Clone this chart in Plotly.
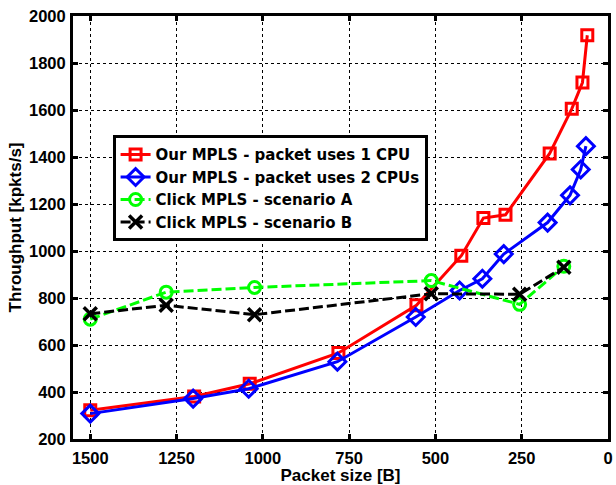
import plotly.graph_objects as go

# Data
x_our1 = [1500, 1199, 1038, 781, 555, 425, 361, 297, 169, 105, 74, 60]
y_our1 = [322, 381, 435, 566, 769, 980, 1140, 1154, 1415, 1605, 1717, 1918]

x_our2 = [1500, 1202, 1041, 784, 557, 430, 364, 302, 175, 110, 79, 64]
y_our2 = [308, 372, 414, 529, 719, 832, 882, 987, 1121, 1237, 1347, 1446]

x_click = [1500, 1280, 1024, 512, 256, 128]
y_clickA = [710, 825, 845, 874, 773, 935]
y_clickB = [733, 769, 729, 818, 816, 931]

names = ["Our MPLS - packet uses 1 CPU", "Our MPLS - packet uses 2 CPUs",
         "Click MPLS - scenario A", "Click MPLS - scenario B"]

x_ticks = [1500, 1250, 1000, 750, 500, 250, 0]
y_ticks = [200, 400, 600, 800, 1000, 1200, 1400, 1600, 1800, 2000]

FONT = "Liberation Sans, Arial, sans-serif"
LEGEND_FONT = "DejaVu Sans, Liberation Sans, sans-serif"

fig = go.Figure()
fig.add_trace(go.Scatter(
    x=x_our1, y=y_our1, name=names[0], mode="lines+markers",
    line=dict(color="#ff0000", width=3),
    marker=dict(symbol="square-open", size=11, color="#ff0000",
                line=dict(width=3, color="#ff0000"))))
fig.add_trace(go.Scatter(
    x=x_our2, y=y_our2, name=names[1], mode="lines+markers",
    line=dict(color="#0000ff", width=3),
    marker=dict(symbol="diamond-open", size=13, color="#0000ff",
                line=dict(width=3, color="#0000ff"))))
fig.add_trace(go.Scatter(
    x=x_click, y=y_clickA, name=names[2], mode="lines+markers",
    line=dict(color="#00ff00", width=3, dash="10px,4px"),
    marker=dict(symbol="circle-open", size=12, color="#00ff00",
                line=dict(width=3, color="#00ff00"))))
fig.add_trace(go.Scatter(
    x=x_click, y=y_clickB, name=names[3], mode="lines+markers",
    line=dict(color="#000000", width=3, dash="10px,4px"),
    marker=dict(symbol="x-thin-open", size=13, color="#000000",
                line=dict(width=3.5, color="#000000"))))

axis_common = dict(
    showline=True, linecolor="black", linewidth=3, mirror="allticks",
    ticks="inside", ticklen=5, tickwidth=2.5, tickcolor="black",
    showgrid=True, gridcolor="black", gridwidth=1, griddash="dot",
    zeroline=False,
    tickfont=dict(family=FONT, size=16.5, color="black", weight="bold"),
)

fig.update_xaxes(
    range=[1550, 0], tickvals=x_ticks, ticktext=[str(v) for v in x_ticks],
    ticklabelstandoff=2,
    title=dict(text="Packet size [B]", standoff=3,
               font=dict(family=FONT, size=17, color="black", weight="bold")),
    **axis_common)
fig.update_yaxes(
    range=[200, 2000], tickvals=y_ticks, ticktext=[str(v) for v in y_ticks],
    ticklabelstandoff=1,
    title=dict(text="Throughput [kpkts/s]", standoff=4,
               font=dict(family=FONT, size=17, color="black", weight="bold")),
    **axis_common)

fig.update_layout(
    width=616, height=485,
    margin=dict(l=73, r=3, t=16, b=44),
    paper_bgcolor="white", plot_bgcolor="white",
    font=dict(family=FONT, color="black"),
    legend=dict(
        x=0.074, y=0.718, xanchor="left", yanchor="top",
        bgcolor="white", bordercolor="black", borderwidth=3,
        font=dict(family=LEGEND_FONT, size=15, color="black", weight="bold"),
        tracegroupgap=0, itemwidth=30,
    ),
)

fig.write_html("out.html")
